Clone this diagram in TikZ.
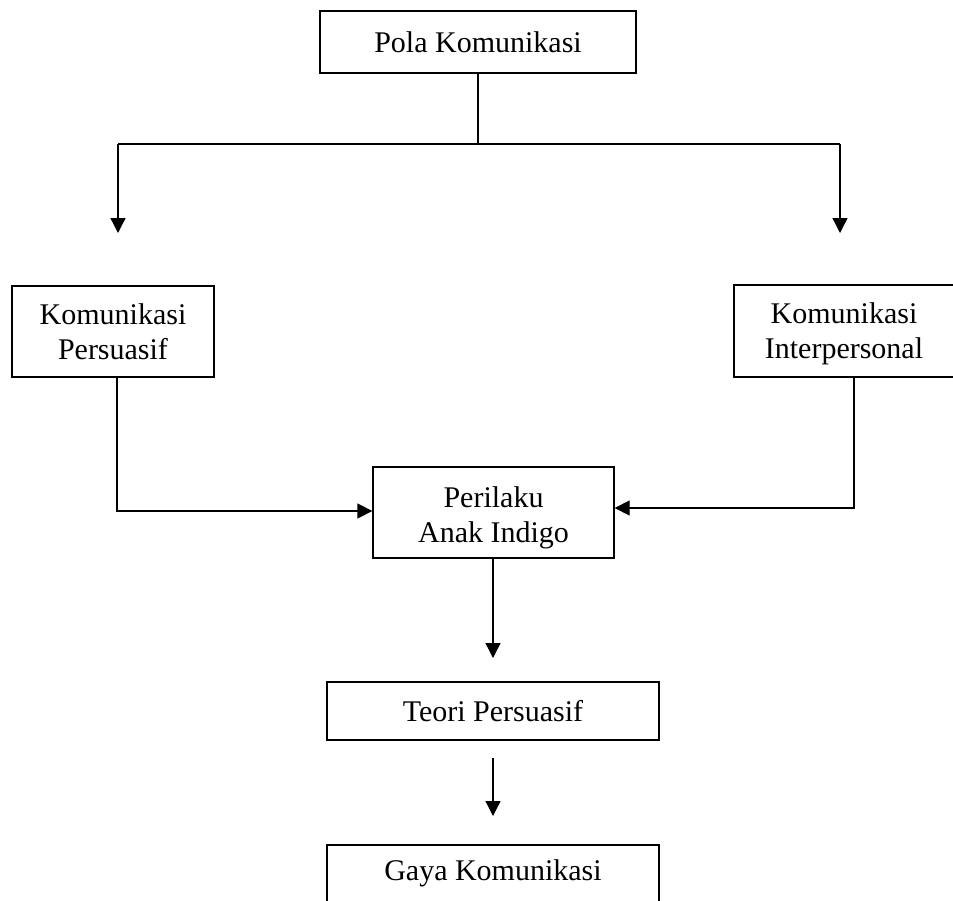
\documentclass[tikz,border=0pt]{standalone}
\usepackage{fontspec}
\setmainfont{Liberation Serif}
\usetikzlibrary{arrows.meta}
\begin{document}
\begin{tikzpicture}[x=1pt,y=-1pt,
  box/.style={draw,line width=1.3pt,rectangle,inner sep=0pt,align=center,
    font=\fontsize{30}{35}\selectfont},
  conn/.style={line width=1.3pt},
  arr/.style={line width=1.3pt,-{Triangle[length=15pt,width=15pt]}}]
\useasboundingbox (0,0) rectangle (953,900);
\clip (0,0) rectangle (953,900);
\node[box,minimum width=316pt,minimum height=62pt] (pola) at (478,42) {Pola Komunikasi};
\node[box,minimum width=202pt,minimum height=91pt] (pers) at (113,331.5) {Komunikasi\\Persuasif};
\node[box,minimum width=220pt,minimum height=92pt] (inter) at (844,331) {\rule{0pt}{27pt}Komunikasi\\Interpersonal};
\node[box,minimum width=241pt,minimum height=91pt] (peri) at (493.5,512.5) {\rule{0pt}{32pt}Perilaku\\Anak Indigo};
\node[box,minimum width=332pt,minimum height=58pt] (teori) at (493,711) {Teori Persuasif};
\node[box,minimum width=332pt,minimum height=64pt] (gaya) at (493,877) {Gaya Komunikasi\rule[-13pt]{0pt}{13pt}};
\coordinate (split) at (478,144);
\coordinate (lt) at (118,144);
\coordinate (rt) at (840,144);
\coordinate (la) at (118,233);
\coordinate (ra) at (840,233);
\coordinate (pd) at (493,658);
\coordinate (ts) at (493,758);
\coordinate (td) at (493,816);
\draw[conn] (pola.south) -- (split);
\draw[conn] (lt) -- (rt);
\draw[arr] (lt) -- (la);
\draw[arr] (rt) -- (ra);
\draw[arr] (117,377) |- (peri.west |- 0,511);
\draw[arr] (854,377) |- (peri.east |- 0,508);
\draw[arr] (peri.south -| pd) -- (pd);
\draw[arr] (ts) -- (td);
\end{tikzpicture}
\end{document}
